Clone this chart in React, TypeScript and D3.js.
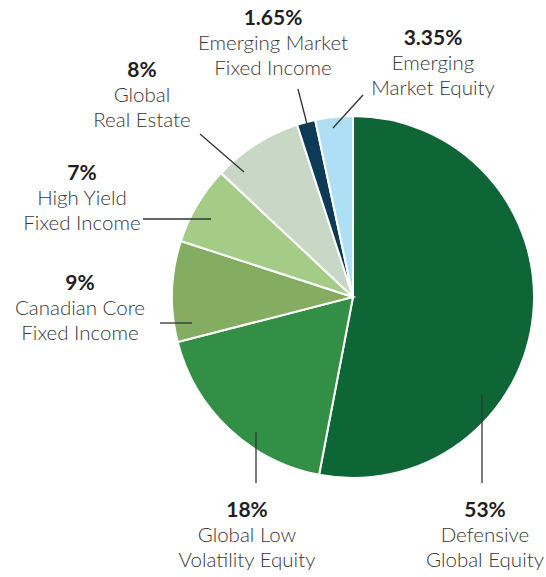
import React from 'react'
import * as d3 from 'd3'

// allocation, clockwise from 12 o'clock
const names = [
  ['Defensive', 'Global Equity'],
  ['Global Low', 'Volatility Equity'],
  ['Canadian Core', 'Fixed Income'],
  ['High Yield', 'Fixed Income'],
  ['Global', 'Real Estate'],
  ['Emerging Market', 'Fixed Income'],
  ['Emerging', 'Market Equity'],
]
const values = [53, 18, 9, 7, 8, 1.65, 3.35]
const pctLabels = ['53%', '18%', '9%', '7%', '8%', '1.65%', '3.35%']
const colors = ['#0e6535', '#338e46', '#84ad61', '#a5cc86', '#c9d8c6', '#0d3a56', '#aedff5']

// label placement: text centre x, first baseline y, leader line
const layout = [
  { x: 485, y: 517, line: [482, 395, 482, 483] },
  { x: 247, y: 517, line: [256, 432, 256, 483] },
  { x: 80, y: 290, line: [160, 323, 192, 323] },
  { x: 82, y: 180, line: [143, 219, 211, 219] },
  { x: 142, y: 77, line: [200, 134, 244, 172] },
  { x: 273, y: 25, line: [298, 89, 308, 128] },
  { x: 433, y: 45, line: [363, 95, 333, 128] },
]

const width = 546
const height = 577
const cx = 353
const cy = 297
const radius = 181

const App = () => {
  const pie = d3
    .pie<number>()
    .sort(null)
    .value(d => d)
  const arc = d3
    .arc<d3.PieArcDatum<number>>()
    .innerRadius(0)
    .outerRadius(radius)
  const slices = pie(values)

  return (
    <svg
      width={width}
      height={height}
      style={{ position: 'absolute', left: 0, top: 0 }}
      fontFamily="Lato, 'Open Sans', sans-serif"
    >
      <g transform={`translate(${cx},${cy})`}>
        {slices.map((s, i) => (
          <path key={i} d={arc(s) || ''} fill={colors[i]} stroke="#fff" strokeWidth={2} />
        ))}
      </g>
      {layout.map(({ x, y, line }, i) => (
        <g key={i}>
          <line x1={line[0]} y1={line[1]} x2={line[2]} y2={line[3]} stroke="#333" strokeWidth={1.3} />
          <text x={x} y={y} textAnchor="middle" fontSize={21} fontWeight={700} fill="#231f20">
            {pctLabels[i]}
          </text>
          {names[i].map((n, j) => (
            <text key={j} x={x} y={y + 25 * (j + 1)} textAnchor="middle" fontSize={20.5} fontWeight={300} fill="#383838">
              {n}
            </text>
          ))}
        </g>
      ))}
    </svg>
  )
}

export default App
